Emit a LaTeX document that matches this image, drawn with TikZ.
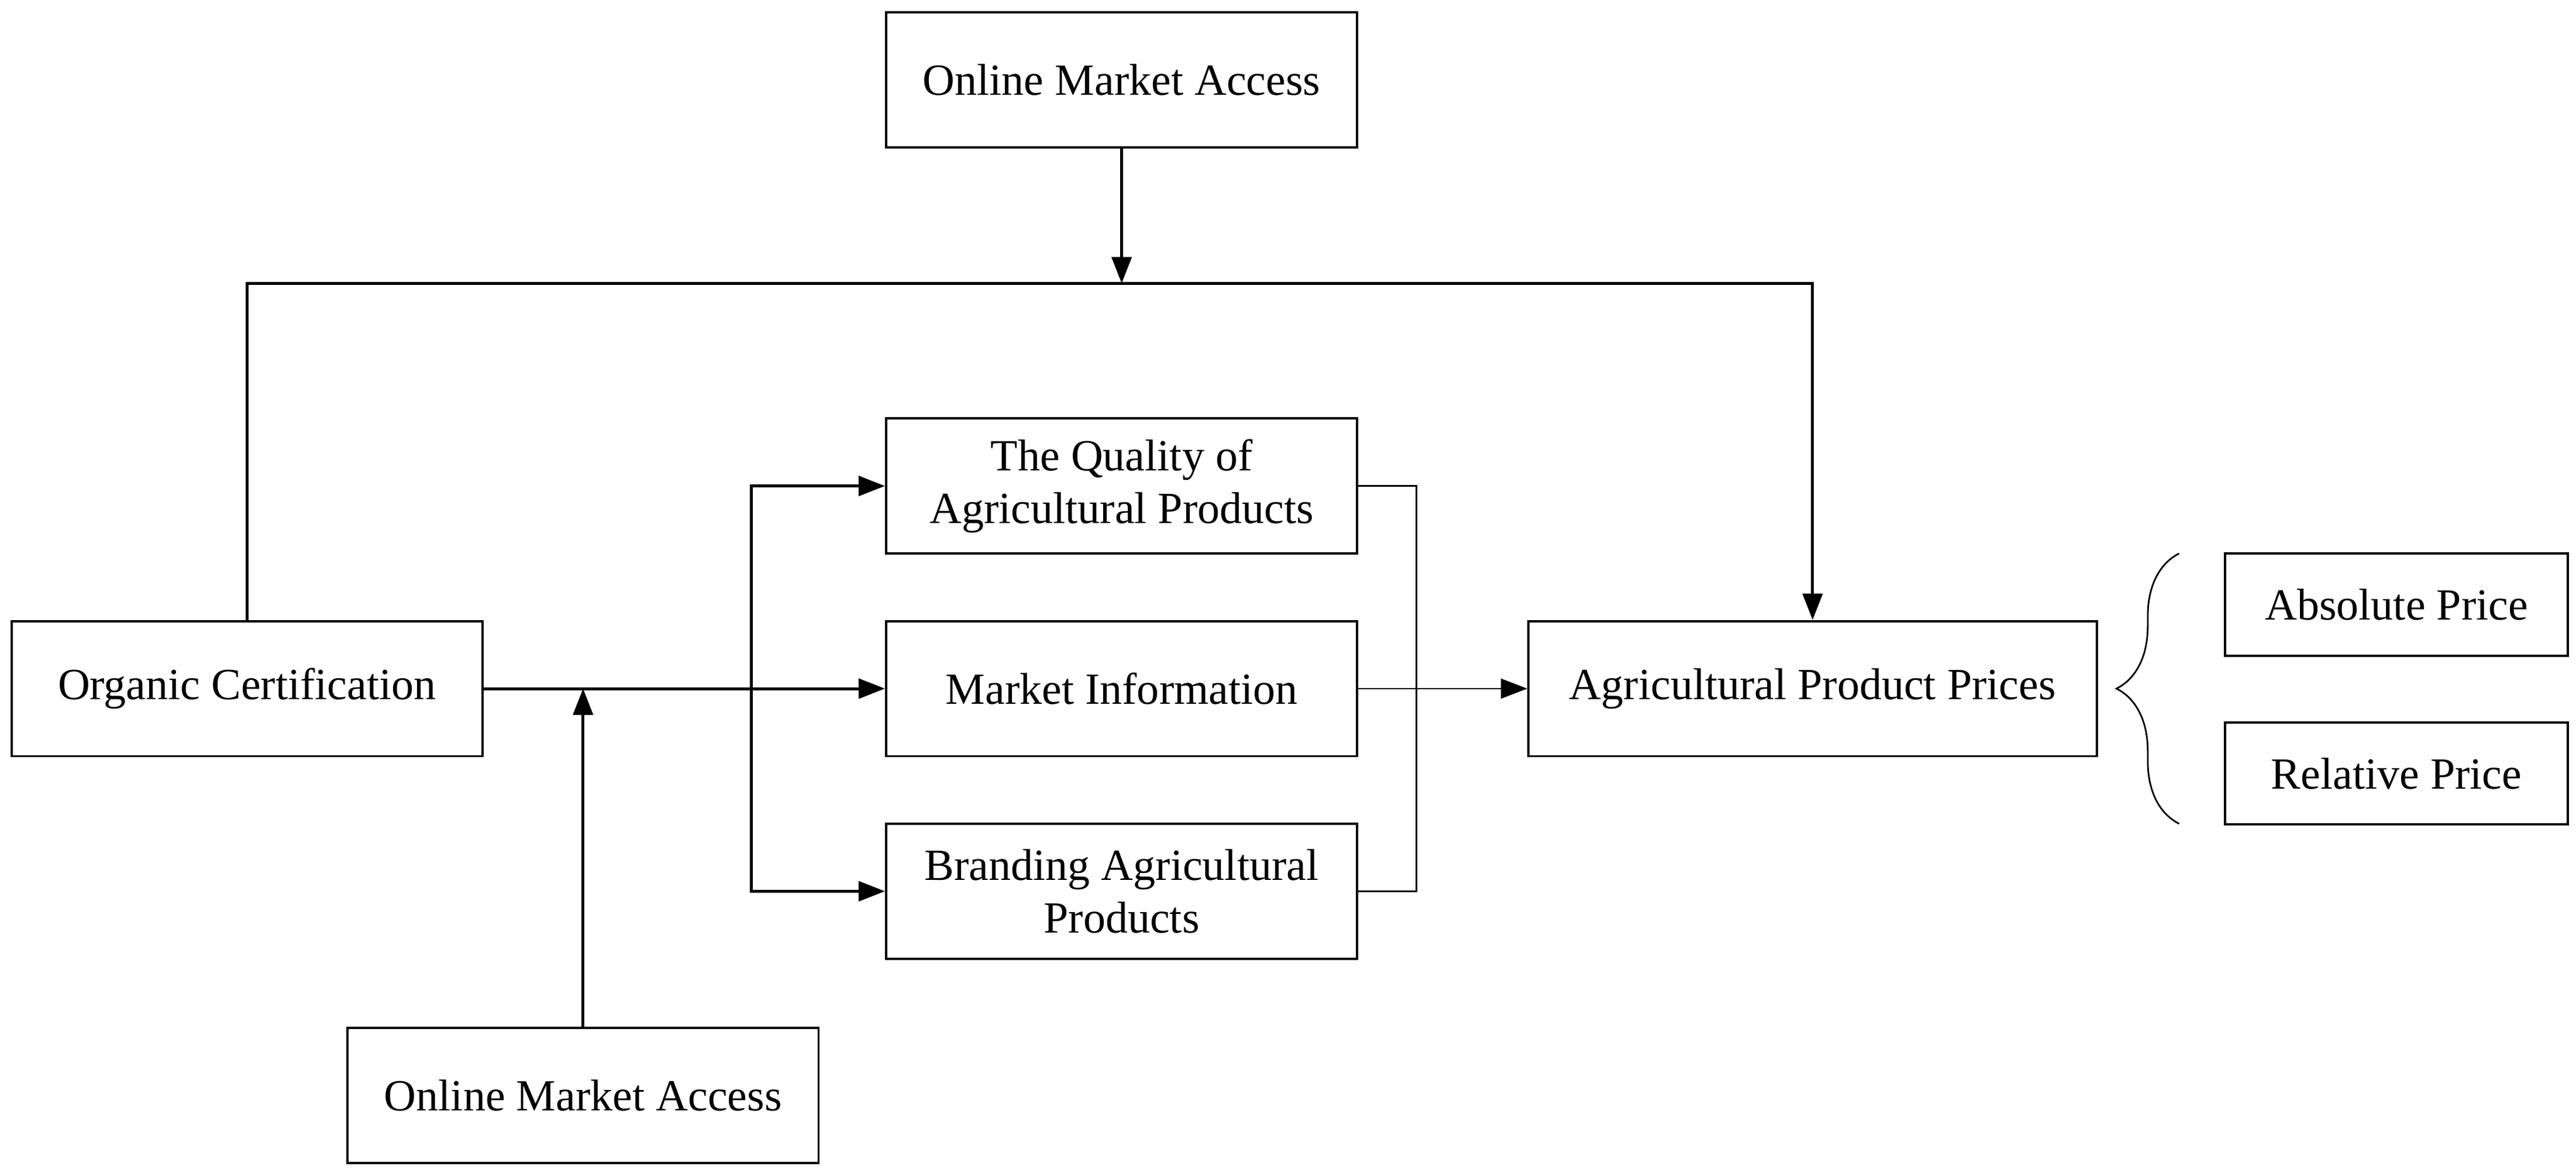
\documentclass[tikz,border=0pt]{standalone}
\usepackage{fontspec}
\setmainfont{Liberation Serif}
\usetikzlibrary{arrows.meta,decorations.pathreplacing}
\begin{document}
\begin{tikzpicture}[x=0.5pt,y=-0.5pt,
  box/.style={draw,line width=0.7pt,inner sep=0pt,align=center,font=\fontsize{13.5}{16}\selectfont},
  conn/.style={line width=0.9pt},
  thin/.style={line width=0.5pt},
  tip/.style={-{Triangle[length=8pt,width=6pt]}}]
\useasboundingbox (0,0) rectangle (1564,712);
\node[box,minimum width=143pt,minimum height=41pt] (top) at (681,48.5) {Online Market Access};
\node[box,minimum width=143pt,minimum height=41pt] (oc) at (150,418) {Organic Certification};
\node[box,minimum width=143pt,minimum height=41pt] (q) at (681,295) {The Quality of\\Agricultural Products};
\node[box,minimum width=143pt,minimum height=41pt] (mi) at (681,418) {Market Information};
\node[box,minimum width=143pt,minimum height=41pt] (br) at (681,541) {Branding Agricultural\\Products};
\node[box,minimum width=172.5pt,minimum height=41pt] (app) at (1100.5,418) {Agricultural Product Prices};
\node[box,minimum width=104pt,minimum height=31pt] (abs) at (1455,367) {Absolute Price};
\node[box,minimum width=104pt,minimum height=31pt] (rel) at (1455,469.5) {Relative Price};
\node[box,minimum width=143pt,minimum height=41pt] (bot) at (354,665) {Online Market Access};
\coordinate (j) at (681,172);
\coordinate (m) at (354,418);
\draw[conn,tip] (top.south) -- (j);
\draw[conn,tip] (oc.north) |- (j) -| (app.north);
\draw[conn,tip] (oc.east) -- (mi.west);
\draw[conn,tip] (bot.north) -- (m);
\coordinate (v1) at (456,295);
\coordinate (v2) at (456,541);
\draw[conn,tip] (v2) -- (v1) -- (q.west);
\draw[conn,tip] (v1) -- (v2) -- (br.west);
\draw[thin] (q.east) -- (860,295) -- (860,541) -- (br.east);
\draw[thin,tip] (mi.east) -- (app.west);
\draw[thin,decorate,decoration={brace,amplitude=19pt}] (1323,500) -- (1323,336);
\end{tikzpicture}
\end{document}
